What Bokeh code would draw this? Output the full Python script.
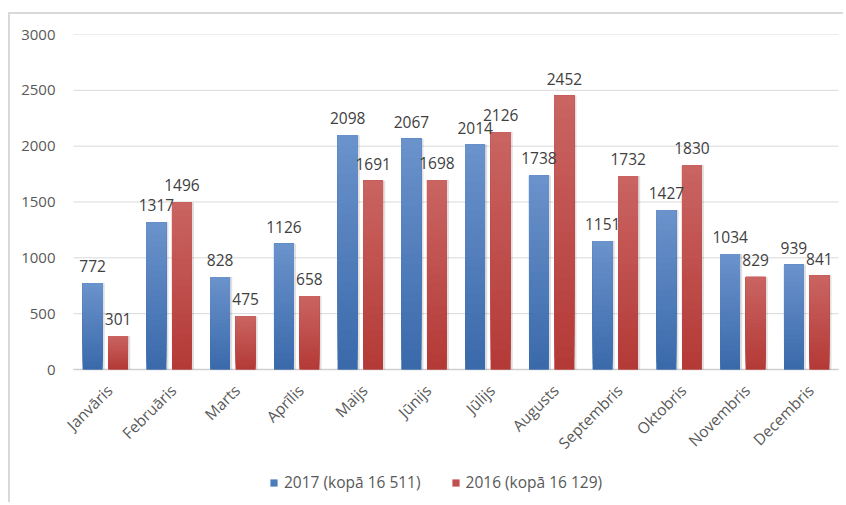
import math
from bokeh.plotting import figure
from bokeh.models import ColumnDataSource, FactorRange, Legend, LegendItem, FixedTicker
from bokeh.transform import dodge
from bokeh.core.properties import value
from bokeh.embed import file_html
from bokeh.resources import INLINE

months = ["Janvāris", "Februāris", "Marts", "Aprīlis", "Maijs", "Jūnijs",
          "Jūlijs", "Augusts", "Septembris", "Oktobris", "Novembris", "Decembris"]
values_2017 = [772, 1317, 828, 1126, 2098, 2067, 2014, 1738, 1151, 1427, 1034, 939]
values_2016 = [301, 1496, 475, 658, 1691, 1698, 2126, 2452, 1732, 1830, 829, 841]
y_ticks = [0, 500, 1000, 1500, 2000, 2500, 3000]
legend_2017 = "2017 (kopā 16 511)"
legend_2016 = "2016 (kopā 16 129)"

FONT = "Open Sans"
N_STEPS = 24

# layout (pixels)
FIG_W, FIG_H = 835, 490
BORDER_LEFT, BORDER_RIGHT, BORDER_TOP = 56, 0, 20
ZERO_FROM_TOP = 355          # pixel distance of the value 0 from the figure top
SIDE_PAD_PX = 7              # room left/right of the categories inside the frame
Y_MAX = 3000
frame_w = FIG_W - BORDER_LEFT - BORDER_RIGHT
frame_h = FIG_H - BORDER_TOP
cat_px = (frame_w - 2 * SIDE_PAD_PX) / len(months)
x_padding = SIDE_PAD_PX / cat_px
px_per_unit = (ZERO_FROM_TOP - BORDER_TOP) / Y_MAX
y_min = -(frame_h - (ZERO_FROM_TOP - BORDER_TOP)) / px_per_unit


def hex_to_rgb(h):
    h = h.lstrip("#")
    return tuple(int(h[i:i + 2], 16) for i in (0, 2, 4))


def lerp_color(c0, c1, t):
    a, b = hex_to_rgb(c0), hex_to_rgb(c1)
    return "#%02x%02x%02x" % tuple(int(round(a[i] + (b[i] - a[i]) * t)) for i in range(3))


def gradient_source(vals, bottom_color, top_color):
    xs, bottoms, tops, colors = [], [], [], []
    for k in range(N_STEPS):
        t = k / (N_STEPS - 1)
        for m, v in zip(months, vals):
            xs.append(m)
            bottoms.append(v * k / N_STEPS)
            tops.append(v)
            colors.append(lerp_color(bottom_color, top_color, t))
    return ColumnDataSource(dict(x=xs, bottom=bottoms, top=tops, color=colors))


p = figure(x_range=FactorRange(*months, range_padding=x_padding, range_padding_units="absolute"),
           y_range=(y_min, Y_MAX),
           width=FIG_W, height=FIG_H, output_backend="svg", toolbar_location=None,
           x_axis_location=None,
           min_border_left=BORDER_LEFT, min_border_right=BORDER_RIGHT,
           min_border_top=BORDER_TOP, min_border_bottom=0)
p.styles = {"margin-left": "8px", "margin-top": "12px",
            "border-left": "2px solid #d9d9d9", "border-top": "2px solid #d9d9d9"}

p.outline_line_color = None
p.xgrid.grid_line_color = None
p.ygrid.grid_line_color = None

# horizontal gridlines spanning exactly the category area
n_cat = len(months)
p.segment(x0=[0] * len(y_ticks), x1=[n_cat] * len(y_ticks), y0=y_ticks, y1=y_ticks,
          line_color="#d9d9d9", line_width=1)
# baseline (category axis line)
p.segment(x0=[0], x1=[n_cat], y0=[0], y1=[0], line_color="#d0d0d0", line_width=1.5)

BAR_W = 0.31
OFF = 0.2

src17 = ColumnDataSource(dict(x=months, top=values_2017, label=[str(v) for v in values_2017]))
src16 = ColumnDataSource(dict(x=months, top=values_2016, label=[str(v) for v in values_2016]))

# soft shadows
for src, off in ((src17, -OFF), (src16, OFF)):
    p.vbar(x=dodge("x", off + 0.035, range=p.x_range), top="top", bottom=0, width=BAR_W,
           source=src, fill_color="#000000", fill_alpha=0.12, line_color=None)

# solid base bars (also used as legend glyphs)
base17 = p.vbar(x=dodge("x", -OFF, range=p.x_range), top="top", bottom=0, width=BAR_W,
                source=src17, fill_color="#4a7ebb", line_color=None)
base16 = p.vbar(x=dodge("x", OFF, range=p.x_range), top="top", bottom=0, width=BAR_W,
                source=src16, fill_color="#c0504d", line_color=None)

# vertical gradient overlay
g17 = gradient_source(values_2017, "#3b6aab", "#6a92cb")
g16 = gradient_source(values_2016, "#b43a37", "#c96461")
p.vbar(x=dodge("x", -OFF, range=p.x_range), top="top", bottom="bottom", width=BAR_W,
       source=g17, fill_color="color", line_color=None)
p.vbar(x=dodge("x", OFF, range=p.x_range), top="top", bottom="bottom", width=BAR_W,
       source=g16, fill_color="color", line_color=None)

# data labels
for src, off in ((src17, -OFF), (src16, OFF)):
    p.text(x=dodge("x", off, range=p.x_range), y="top", text="label", source=src,
           text_font=value(FONT), text_font_size="15.5px", text_color="#404040",
           text_align="center", text_baseline="alphabetic", y_offset=-17)

# category labels (rotated 45°)
cat_src = ColumnDataSource(dict(x=months, y=[0] * len(months), label=months))
p.text(x="x", y="y", text="label", source=cat_src, angle=math.pi / 4,
       text_font=value(FONT), text_font_size="15.5px", text_color="#595959",
       text_align="right", text_baseline="alphabetic", x_offset=4, y_offset=18)

legend = Legend(items=[LegendItem(label=legend_2017, renderers=[base17]),
                       LegendItem(label=legend_2016, renderers=[base16])],
                orientation="horizontal", location=(203, 11),
                label_text_font=FONT, label_text_font_size="15.5px", label_text_color="#595959",
                glyph_width=9, glyph_height=9, label_standoff=6, spacing=30,
                border_line_color=None, background_fill_color=None, background_fill_alpha=0,
                margin=0, padding=4)
p.add_layout(legend, "center")

p.yaxis.ticker = FixedTicker(ticks=y_ticks)
p.yaxis.axis_line_color = None
p.yaxis.major_tick_line_color = None
p.yaxis.minor_tick_line_color = None
p.yaxis.major_tick_out = 0
p.yaxis.major_label_standoff = 11
p.yaxis.major_label_text_font = FONT
p.yaxis.major_label_text_font_size = "15px"
p.yaxis.major_label_text_color = "#595959"

open("out.html", "w").write(file_html(p, INLINE))
